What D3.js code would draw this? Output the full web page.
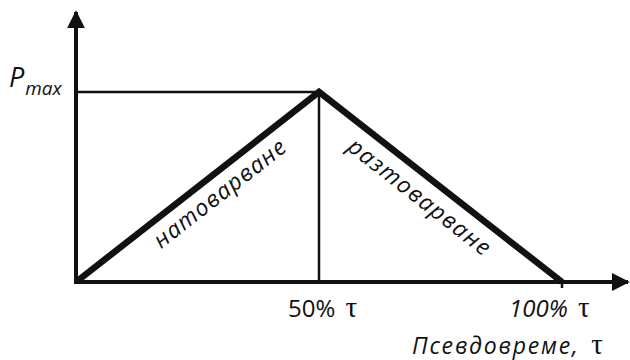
<!DOCTYPE html>
<meta charset="utf-8">
<script src="https://d3js.org/d3.v7.min.js"></script>
<body style="margin:0;background:#fff">
<div id="chart"></div>
<script>
// load profile: percent of pseudo-time vs load (share of Pmax)
var xPct = [0, 50, 100];
var yLoad = [0, 1, 0];
var tickLabels = ["50% ", "100% "];
var phaseLabels = ["натоварване", "разтоварване"];

var width = 630, height = 360;
var svg = d3.select("#chart").append("svg")
    .attr("width", width).attr("height", height)
    .attr("lang", "bg");

var x = d3.scaleLinear().domain([0, 100]).range([76, 562]);
var y = d3.scaleLinear().domain([0, 1]).range([282, 92]);

var ink = "#111";

// Pmax guide and 50% vertical
svg.append("line")
  .attr("x1", x(0)).attr("x2", x(50))
  .attr("y1", y(1)).attr("y2", y(1))
  .style("stroke", ink).style("stroke-width", 2.5);
svg.append("line")
  .attr("x1", x(50)).attr("x2", x(50))
  .attr("y1", y(1)).attr("y2", y(0))
  .style("stroke", ink).style("stroke-width", 2.5);

// axes with arrows
svg.append("defs").append("marker")
  .attr("id", "arr").attr("viewBox", "0 0 10 10")
  .attr("refX", 9).attr("refY", 5)
  .attr("markerWidth", 4.5).attr("markerHeight", 4.5)
  .attr("markerUnits", "strokeWidth")
  .attr("orient", "auto")
  .append("path").attr("d", "M0,0 L10,5 L0,10 z").style("fill", ink);

svg.append("line")
  .attr("x1", x(0)).attr("x2", x(0))
  .attr("y1", y(0) + 1.5).attr("y2", 12)
  .style("stroke", ink).style("stroke-width", 4)
  .attr("marker-end", "url(#arr)");
svg.append("line")
  .attr("x1", x(0) - 2).attr("x2", 628)
  .attr("y1", y(0)).attr("y2", y(0))
  .style("stroke", ink).style("stroke-width", 4)
  .attr("marker-end", "url(#arr)");

// small tick at 100%
svg.append("line")
  .attr("x1", x(100)).attr("x2", x(100))
  .attr("y1", y(0)).attr("y2", y(0) + 6)
  .style("stroke", ink).style("stroke-width", 2.5);

// load triangle
var line = d3.line()
  .x(function(d, i) { return x(xPct[i]); })
  .y(function(d, i) { return y(yLoad[i]); });
svg.append("path")
  .datum(xPct)
  .attr("d", line)
  .style("fill", "none")
  .style("stroke", ink)
  .style("stroke-width", 6.5)
  .style("stroke-linejoin", "miter");

var font = "'Open Sans', sans-serif";
var angle = Math.atan2(y(0) - y(1), x(50) - x(0)) * 180 / Math.PI;

// phase labels
svg.append("text")
  .attr("transform", "translate(220,193) rotate(" + (-angle) + ")")
  .attr("text-anchor", "middle").attr("dy", "0.35em")
  .style("font-family", font).style("font-style", "italic")
  .style("font-size", "23px").style("letter-spacing", "1.2px").style("fill", ink)
  .text(phaseLabels[0]);
svg.append("text")
  .attr("transform", "translate(420,197) rotate(" + angle + ")")
  .attr("text-anchor", "middle").attr("dy", "0.35em")
  .style("font-family", font).style("font-style", "italic")
  .style("font-size", "23px").style("letter-spacing", "1.4px").style("fill", ink)
  .text(phaseLabels[1]);

// Pmax label
var pm = svg.append("text")
  .attr("x", 9).attr("y", 87)
  .style("font-family", font).style("font-style", "italic")
  .style("fill", ink);
pm.append("tspan").style("font-size", "27px").text("P");
pm.append("tspan").attr("dy", 8).attr("dx", 1).style("font-size", "19px").text("max");

// tick labels
var tau = "'Liberation Serif', 'DejaVu Serif', serif";
var t1 = svg.append("text")
  .attr("x", 288).attr("y", 317)
  .style("font-family", font).style("font-size", "24px").style("fill", ink);
t1.append("tspan").text(tickLabels[0]);
t1.append("tspan").attr("dx", 4).style("font-family", tau).style("font-size", "29px").text("τ");

var t2 = svg.append("text")
  .attr("x", 509).attr("y", 317)
  .style("font-family", font).style("font-size", "24px").style("fill", ink);
t2.append("tspan").style("font-style", "italic").text(tickLabels[1]);
t2.append("tspan").attr("dx", 4).style("font-family", tau).style("font-size", "29px").text("τ");

var t3 = svg.append("text")
  .attr("x", 412).attr("y", 354)
  .style("font-family", font).style("font-size", "23px").style("fill", ink);
t3.append("tspan").style("font-style", "italic").style("letter-spacing", "1.8px").text("Псевдовреме, ");
t3.append("tspan").attr("dx", 4).style("font-family", tau).style("font-size", "29px").text("τ");
</script>
</body>
